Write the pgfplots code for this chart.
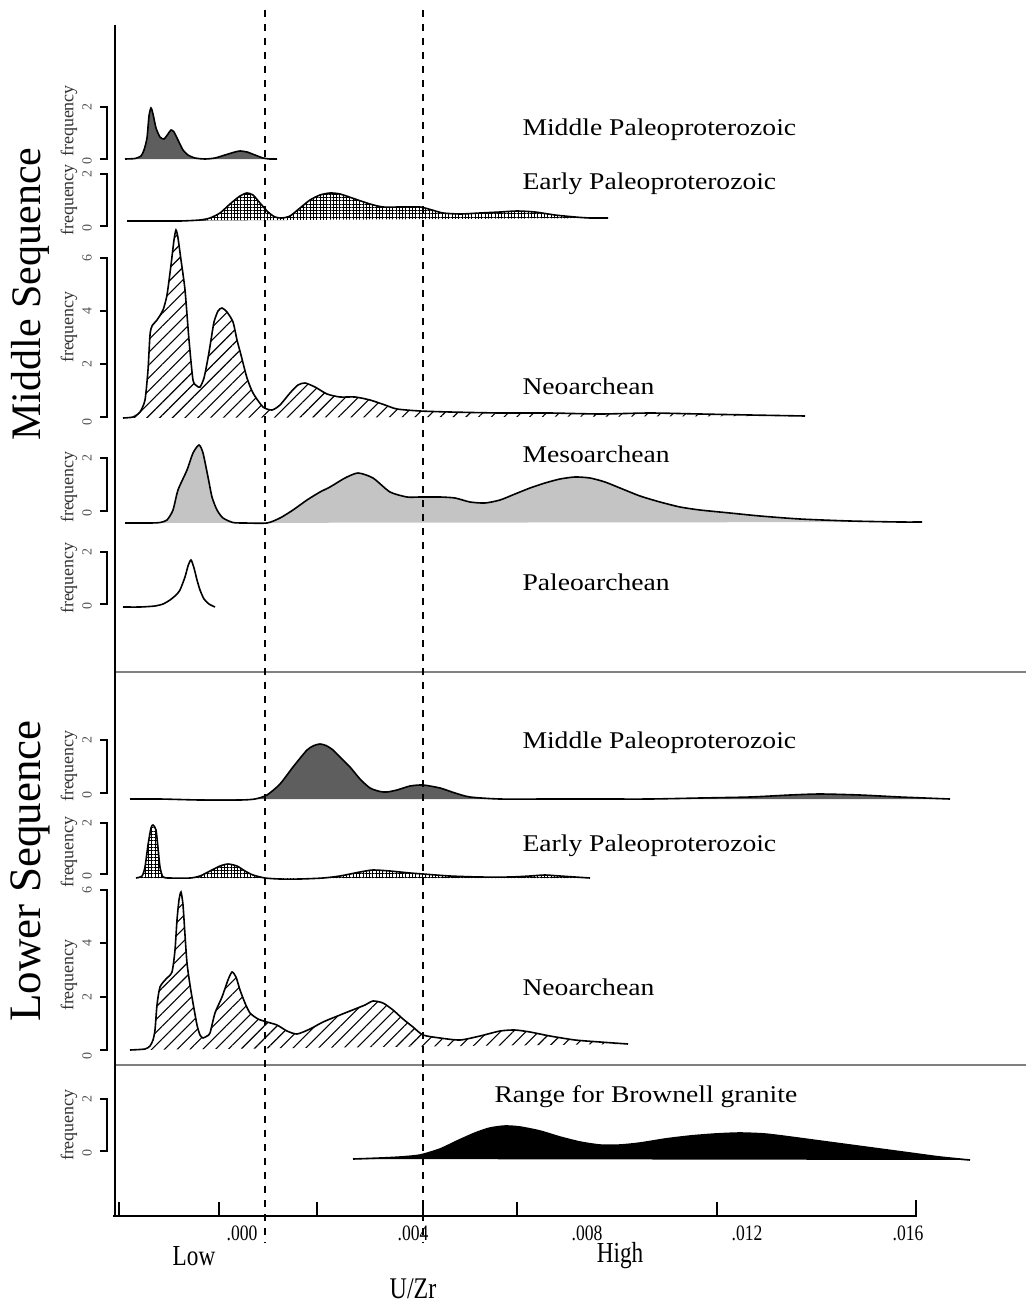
\documentclass[border=0pt]{standalone}
\usepackage{fontspec}
\setmainfont{Liberation Serif}
\newfontfamily\labfont[FakeStretch=1.15]{Liberation Serif}
\newfontfamily\condfont[FakeStretch=0.8]{Liberation Serif}
\usepackage{pgfplots}
\pgfplotsset{compat=1.18}
\usepackage{pgfplotstable}
\usetikzlibrary{patterns.meta}
\definecolor{mpgray}{HTML}{5E5E5E}
\definecolor{mesogray}{HTML}{C4C4C4}
\definecolor{sepgray}{HTML}{808080}
\definecolor{freqgray}{HTML}{333333}
\definecolor{diggray}{HTML}{555555}

% ---- data: x = horizontal position, y = vertical position (top down) ----
\pgfplotstableread{
x y
125 159
135 158.5
141 156
144 150
147 138
149 116
151 108
153 114
156 128
160 137
164 139
168 134
171 130
174 132
178 140
183 150
188 155
195 158
205 159
215 158
225 155
235 152
240 151
247 152
255 155
263 158
270 159
277 159
}\upMP

\pgfplotstableread{
x y
127 221
150 221
180 221
200 220
210 218
220 213
230 204
240 196
247 193
253 195
260 203
268 212
275 217
282 218
290 216
300 208
310 200
320 195
330 193
340 194
355 199
370 204
383 207
400 207
420 207
432 210
443 213
460 214
480 213
500 212
517 211
535 212
555 215
575 217
590 218
608 218
}\upEP

\pgfplotstableread{
x y
123 418
133 417
140 412
145 400
148 370
150 335
152 326
157 320
163 310
167 295
171 265
174 240
176 230
178 238
181 260
185 290
189 340
193 380
197 386
200 387
204 378
208 358
211 340
214 322
218 311
222 308
227 312
233 322
237 340
241 355
247 378
253 393
263 407
272 410
280 405
290 393
298 385
305 383
315 387
327 394
340 397
355 397
370 400
385 405
397 409
420 411
450 412
500 413
550 413
600 414
650 413
700 414
750 415
805 416
}\upNeo

\pgfplotstableread{
x y
125 523
150 523
160 522.5
167 520
173 510
178 490
187 470
193 453
199 445
203 453
208 477
212 497
217 510
223 518
233 522.5
245 523
267 523
280 518
293 510
307 500
320 492
330 487
345 478
358 473
373 478
390 492
407 497
420 497
440 497
455 498
470 502
485 503
500 500
515 494
530 488
545 483
560 479
575 477
590 478
605 482
620 488
640 496
660 502
680 507
700 510
730 513
760 516
800 519
850 521
900 522
922 522
}\meso

\pgfplotstableread{
x y
123 607
140 607
155 606
163 604
170 600
176 595
180 590
185 577
188 566
191 560
194 568
197 580
200 590
204 599
209 604
215 607
}\paleo

\pgfplotstableread{
x y
130 799
160 799
200 800
240 800
255 799
267 795
280 784
293 767
307 750
314 745.5
320 744
326 745.5
333 750
342 759
350 767
360 779
370 788
380 791.5
387 792
397 790
410 786
423 785
440 788
455 793
470 797
500 799
550 799
600 799
650 799
700 798
750 797
790 795
820 794
860 795
900 797
950 799
}\loMP

\pgfplotstableread{
x y
136 878
142 876
145 867
148 845
151 828
153 825
156 830
158 848
160 867
163 877
170 878
190 878
200 876
210 871
220 866
228 864
237 866
245 871
253 875
265 878
280 879
300 879
323 878
340 876
360 872
373 870
390 871
410 873
423 874
450 876
480 877
510 877
530 876
545 875
560 876
590 878
}\loEP

\pgfplotstableread{
x y
130 1050
145 1049
150 1046
153 1040
155 1030
157 1005
160 987
166 979
172 972
175 950
177 920
179 900
181 892
183 905
185 935
187 963
190 985
193 1003
197 1025
200 1035
203 1038
207 1036
210 1033
215 1013
222 997
228 980
232 972
236 977
240 990
245 1003
250 1013
258 1019
267 1022
277 1025
287 1031
297 1034
310 1029
323 1022
340 1015
355 1009
365 1005
373 1001
383 1003
393 1010
403 1019
413 1027
423 1035
440 1038
460 1040
480 1036
500 1031
515 1030
530 1032
550 1036
575 1040
600 1042
628 1044
}\loNeo

\pgfplotstableread{
x y
353 1159
380 1158
400 1157
420 1155
440 1149
457 1141
475 1133
490 1128
505 1126
520 1127
540 1131
560 1137
580 1142
600 1145
620 1145
640 1143
665 1139
690 1136
715 1134
740 1133
765 1134
790 1137
820 1141
850 1145
880 1149
910 1153
940 1157
970 1160
}\brown

\begin{document}
\begin{tikzpicture}
\begin{axis}[name=ax, at={(0,0)}, anchor=south west,
  x=1pt, y=1pt, xmin=0, xmax=1026, ymin=0, ymax=1303, y dir=reverse,
  hide axis, clip=false, enlargelimits=false, scale only axis,
  unbounded coords=jump]

% ---------- filled densities ----------
\addplot[draw=none, fill=mpgray, smooth, tension=0.4] table {\upMP} -- cycle;
\addplot[black, line width=1.6pt, smooth, tension=0.4] table {\upMP};

\addplot[draw=none, pattern={Hatch[angle=0,distance=3.3pt,line width=1pt]}, pattern color=black, smooth, tension=0.4] table {\upEP} -- cycle;
\addplot[black, line width=1.6pt, smooth, tension=0.4] table {\upEP};

\addplot[draw=none, pattern={Lines[angle=45,distance=9pt,line width=1.1pt]}, pattern color=black, smooth, tension=0.4] table {\upNeo} -- cycle;
\addplot[black, line width=1.6pt, smooth, tension=0.4] table {\upNeo};

\addplot[draw=none, fill=mesogray, smooth, tension=0.4] table {\meso} -- cycle;
\addplot[black, line width=1.6pt, smooth, tension=0.4] table {\meso};

\addplot[black, line width=1.6pt, smooth, tension=0.4] table {\paleo};

\addplot[draw=none, fill=mpgray, smooth, tension=0.4] table {\loMP} -- cycle;
\addplot[black, line width=1.6pt, smooth, tension=0.4] table {\loMP};

\addplot[draw=none, pattern={Hatch[angle=0,distance=3.3pt,line width=1pt]}, pattern color=black, smooth, tension=0.4] table {\loEP} -- cycle;
\addplot[black, line width=1.6pt, smooth, tension=0.4] table {\loEP};

\addplot[draw=none, pattern={Lines[angle=45,distance=9pt,line width=1.1pt]}, pattern color=black, smooth, tension=0.4] table {\loNeo} -- cycle;
\addplot[black, line width=1.6pt, smooth, tension=0.4] table {\loNeo};

\addplot[draw=none, fill=black, smooth, tension=0.4] table {\brown} -- cycle;
\addplot[black, line width=1.6pt, smooth, tension=0.4] table {\brown};

% ---------- frame: main axis, separators ----------
\addplot[black, line width=1.8pt] coordinates {(115,25) (115,1216)};
\addplot[black, line width=1.8pt] coordinates {(113,1216) (917,1216)};
\addplot[black, line width=1.6pt] coordinates {
 (119,1216)(119,1202)(0,nan)
 (219,1216)(219,1202)(0,nan)
 (317,1216)(317,1202)(0,nan)
 (423,1216)(423,1202)(0,nan)
 (517,1216)(517,1202)(0,nan)
 (717,1216)(717,1202)(0,nan)
 (916,1216)(916,1200)};
\addplot[sepgray, line width=2pt] coordinates {(116,672) (1026,672)};
\addplot[sepgray, line width=2pt] coordinates {(116,1065) (1026,1065)};

% ---------- frequency brackets ----------
\addplot[black, line width=1.5pt] coordinates {
 (100,107)(107,107)(107,159)(100,159)(0,nan)
 (100,174)(107,174)(107,226)(100,226)(0,nan)
 (100,258)(107,258)(107,417)(100,417)(0,nan)
 (100,311)(107,311)(0,nan)
 (100,364)(107,364)(0,nan)
 (100,458)(107,458)(107,511)(100,511)(0,nan)
 (100,552)(107,552)(107,604)(100,604)(0,nan)
 (100,740)(107,740)(107,793)(100,793)(0,nan)
 (100,823)(107,823)(107,874)(100,874)(0,nan)
 (100,890)(107,890)(107,1050)(100,1050)(0,nan)
 (100,943)(107,943)(0,nan)
 (100,997)(107,997)(0,nan)
 (100,1099)(107,1099)(107,1151)(100,1151)};

% ---------- dashed reference lines ----------
\addplot[black, line width=2.2pt, dash pattern=on 7pt off 7pt] coordinates {(265,10) (265,1243)};
\addplot[black, line width=2.2pt, dash pattern=on 7pt off 7pt] coordinates {(423,10) (423,1243)};

% ---------- y-side texts ----------
\begin{scope}[every node/.style={rotate=90, font=\fontsize{18}{18}\selectfont, text=freqgray}]
\node at (axis cs:69,121) {frequency};
\node at (axis cs:69,200) {frequency};
\node at (axis cs:69,327) {frequency};
\node at (axis cs:69,487) {frequency};
\node at (axis cs:69,578) {frequency};
\node at (axis cs:69,766) {frequency};
\node at (axis cs:69,852) {frequency};
\node at (axis cs:69,975) {frequency};
\node at (axis cs:69,1125) {frequency};
\end{scope}
\begin{scope}[every node/.style={rotate=90, font=\fontsize{14}{14}\selectfont, text=diggray}]
\node at (axis cs:87,107) {2};  \node at (axis cs:87,161) {0};
\node at (axis cs:87,174) {2};  \node at (axis cs:87,228) {0};
\node at (axis cs:87,258) {6};  \node at (axis cs:87,311) {4};
\node at (axis cs:87,364) {2};  \node at (axis cs:87,422) {0};
\node at (axis cs:87,458) {2};  \node at (axis cs:87,513) {0};
\node at (axis cs:87,552) {2};  \node at (axis cs:87,606) {0};
\node at (axis cs:87,740) {2};  \node at (axis cs:87,795) {0};
\node at (axis cs:87,823) {2};  \node at (axis cs:87,876) {0};
\node at (axis cs:87,890) {6};  \node at (axis cs:87,943) {4};
\node at (axis cs:87,997) {2};  \node at (axis cs:87,1056) {0};
\node at (axis cs:87,1099) {2}; \node at (axis cs:87,1153) {0};
\end{scope}

\node[rotate=90, font=\fontsize{42}{42}\selectfont] at (axis cs:30,294) {Middle Sequence};
\node[rotate=90, font=\fontsize{45}{45}\selectfont] at (axis cs:30,871) {Lower Sequence};

% ---------- series names ----------
\begin{scope}[every node/.style={anchor=west, font=\fontsize{24}{24}\labfont}]
\node at (axis cs:519,130) {Middle Paleoproterozoic};
\node at (axis cs:519,184) {Early Paleoproterozoic};
\node at (axis cs:519,386) {Neoarchean};
\node at (axis cs:519,454) {Mesoarchean};
\node at (axis cs:519,582) {Paleoarchean};
\node at (axis cs:519,743) {Middle Paleoproterozoic};
\node at (axis cs:519,846) {Early Paleoproterozoic};
\node at (axis cs:519,987) {Neoarchean};
\node at (axis cs:491,1097) {Range for Brownell granite};
\end{scope}

% ---------- x-axis texts ----------
\begin{scope}[every node/.style={font=\fontsize{22}{22}\condfont}]
\node at (axis cs:242,1233) {.000};
\node at (axis cs:413,1233) {.004};
\node at (axis cs:587,1233) {.008};
\node at (axis cs:747,1233) {.012};
\node at (axis cs:908,1233) {.016};
\end{scope}
\node[font=\fontsize{29}{29}\condfont] at (axis cs:194,1256) {Low};
\node[font=\fontsize{29}{29}\condfont] at (axis cs:620,1256) {High};
\node[font=\fontsize{30}{30}\condfont] at (axis cs:413,1289) {U/Zr};
\end{axis}
\pgfresetboundingbox
\path[use as bounding box] (ax.south west) rectangle (ax.north east);
\end{tikzpicture}
\end{document}
